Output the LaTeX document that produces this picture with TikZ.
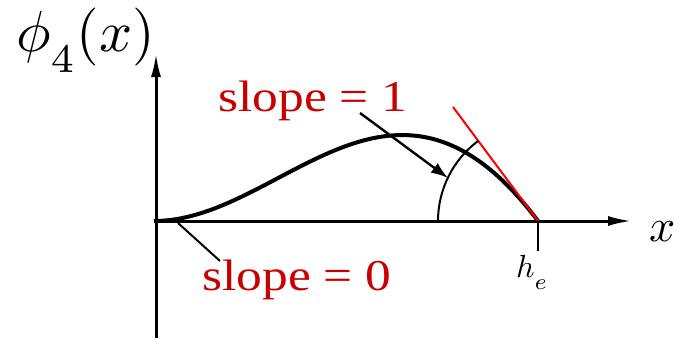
\documentclass[tikz,border=0pt]{standalone}
\usepackage{fontspec}
\usepackage{graphicx}
\newfontfamily\labelfont{Liberation Serif}
\usetikzlibrary{arrows.meta}
\definecolor{lblred}{RGB}{200,0,0}
\begin{document}
\begin{tikzpicture}[x=1pt,y=-1pt,
  axisline/.style={line width=3pt,-{Latex[length=24pt,width=10pt]}},
  curveline/.style={line width=4pt},
  thinline/.style={line width=2pt},
  pointer/.style={line width=2.4pt,-{Latex[length=17pt,width=12pt]}},
  tangent/.style={line width=2pt,red},
  redlabel/.style={anchor=base west,inner sep=0pt,text=lblred,font=\labelfont\fontsize{44}{48}\selectfont},
  mathlabel/.style={anchor=base west,inner sep=0pt,font=\fontsize{10}{12}\selectfont}]
\useasboundingbox (0,0) rectangle (677,338);
% key points
\coordinate (O) at (154,221);
\coordinate (ybot) at (156,338);
\coordinate (ytip) at (156,53);
\coordinate (xtip) at (632,221);
\coordinate (E) at (538,221);
\coordinate (T) at (453,107);
\coordinate (A0) at (438,221);
\coordinate (H) at (538,251);
\coordinate (a1s) at (360,113);
\coordinate (a1e) at (448,178);
\coordinate (l0s) at (178,223);
\coordinate (l0e) at (220,261);
% axes
\draw[axisline] (ybot) -- (ytip);
\draw[axisline] (O) -- (xtip);
% shape function
\draw[curveline] (O) .. controls (282,221) and (392.5,27.6) .. (E);
% tangent and angle
\draw[tangent] (E) -- (T);
\draw[thinline] (A0) arc[start angle=180,end angle=233.3,radius=100];
\draw[thinline] (E) -- (H);
% labels
\node[mathlabel] (phil) at (16,51) {\scalebox{5.8}{$\phi_{\lower2.2pt\hbox{$\scriptstyle 4$}}(x)$}};
\node[mathlabel] (xl) at (649,241) {\scalebox{4.6}{$x$}};
\node[mathlabel] (hl) at (516,277) {\scalebox{3.2}{$h_{\lower2.5pt\hbox{$\scriptstyle e$}}$}};
\node[redlabel] (s1) at (218,111) {\scalebox{1.17}[1]{slope = 1}};
\node[redlabel] (s0) at (202,290) {\scalebox{1.17}[1]{slope = 0}};
% pointers
\draw[pointer] (a1s) -- (a1e);
\draw[thinline] (l0s) -- (l0e);
\end{tikzpicture}
\end{document}
